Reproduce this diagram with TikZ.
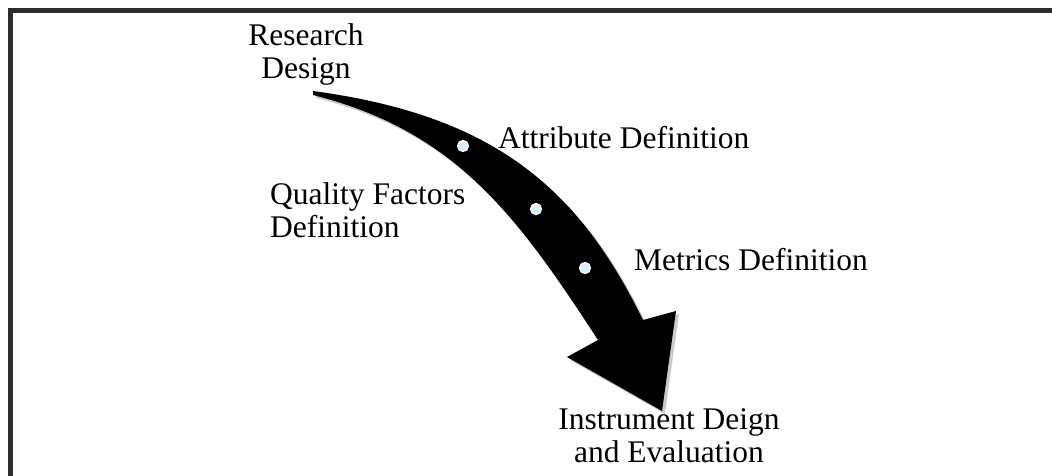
\documentclass[tikz,border=0pt]{standalone}
\usepackage{fontspec}
\setmainfont{Liberation Serif}
\begin{document}
\begin{tikzpicture}[x=1pt,y=-1pt,
  lbl/.style={font=\fontsize{31.5}{33}\selectfont, inner sep=0pt, text=black},
  dotmark/.style={circle, fill={rgb,255:red,220;green,238;blue,250}, draw=white, line width=1.2pt, minimum size=11pt, inner sep=0pt},
  frameline/.style={draw={rgb,255:red,45;green,45;blue,45}, line width=4.5pt},
  arrowbody/.style={fill=black},
  arrowshadow/.style={fill=black, opacity=0.2}]
\useasboundingbox (0,0) rectangle (1052,475);
\begin{scope}
  \clip (0,0) rectangle (1052,475);
  \draw[frameline] (10.5,10.5) rectangle (1100,520);
\end{scope}
% arrow shadow
\fill[arrowshadow, shift={(3,3)}]
  (313,91) .. controls (491,115) and (577,185) .. (643,320)
  -- (676,311) -- (662,411) -- (567,357) -- (598,340)
  .. controls (516,214) and (455,131) .. (313,95) -- cycle;
% arrow
\fill[arrowbody]
  (313,91) .. controls (491,115) and (577,185) .. (643,320)
  -- (676,311) -- (662,411) -- (567,357) -- (598,340)
  .. controls (516,214) and (455,131) .. (313,95) -- cycle;
\node[dotmark] (d1) at (463,146) {};
\node[dotmark] (d2) at (536,209) {};
\node[dotmark] (d3) at (585,268) {};
% labels (anchor=base of a two-line node is the last line's baseline)
\node[lbl, align=center, anchor=base] (research) at (306,78) {Research\\Design};
\node[lbl, anchor=base west] (attr) at (498,148) {Attribute Definition};
\node[lbl, align=left, anchor=base west] (quality) at (270,237) {Quality Factors\\Definition};
\node[lbl, anchor=base west] (metrics) at (634,270) {Metrics Definition};
\node[lbl, align=center, anchor=base] (instr) at (669,462) {Instrument Deign\\and Evaluation};
\end{tikzpicture}
\end{document}
